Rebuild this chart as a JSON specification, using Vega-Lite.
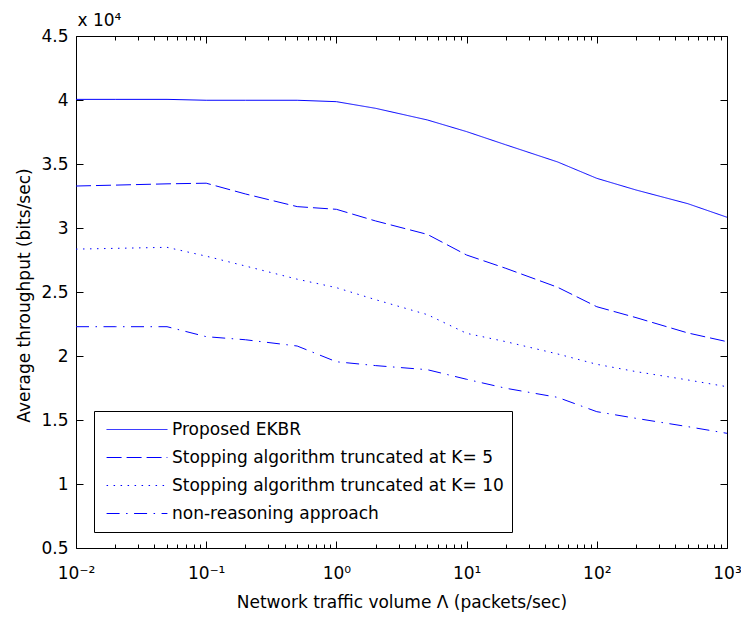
{
  "$schema": "https://vega.github.io/schema/vega-lite/v6.json",
  "width": 651,
  "height": 512,
  "autosize": {"type": "none"},
  "padding": {"left": 76, "top": 36, "right": 14, "bottom": 70},
  "background": "white",
  "config": {
    "view": {"stroke": "black", "strokeWidth": 1},
    "axis": {"domain": false, "grid": false, "labelFont": "DejaVu Sans", "labelFontSize": 17, "labelColor": "black", "titleFont": "DejaVu Sans", "titleFontSize": 17, "titleFontWeight": "normal", "titleColor": "black", "tickColor": "black", "tickWidth": 1}
  },
  "data": {"values": [
    {"x": 0.01, "y": 40050, "series": "Proposed EKBR"},
    {"x": 0.02, "y": 40050, "series": "Proposed EKBR"},
    {"x": 0.05, "y": 40050, "series": "Proposed EKBR"},
    {"x": 0.1, "y": 39980, "series": "Proposed EKBR"},
    {"x": 0.2, "y": 39980, "series": "Proposed EKBR"},
    {"x": 0.5, "y": 39980, "series": "Proposed EKBR"},
    {"x": 1, "y": 39870, "series": "Proposed EKBR"},
    {"x": 2, "y": 39350, "series": "Proposed EKBR"},
    {"x": 5, "y": 38440, "series": "Proposed EKBR"},
    {"x": 10, "y": 37530, "series": "Proposed EKBR"},
    {"x": 20, "y": 36500, "series": "Proposed EKBR"},
    {"x": 50, "y": 35160, "series": "Proposed EKBR"},
    {"x": 100, "y": 33880, "series": "Proposed EKBR"},
    {"x": 200, "y": 32970, "series": "Proposed EKBR"},
    {"x": 500, "y": 31900, "series": "Proposed EKBR"},
    {"x": 1000, "y": 30840, "series": "Proposed EKBR"},
    {"x": 0.01, "y": 33280, "series": "Stopping algorithm truncated at K= 5"},
    {"x": 0.02, "y": 33350, "series": "Stopping algorithm truncated at K= 5"},
    {"x": 0.05, "y": 33450, "series": "Stopping algorithm truncated at K= 5"},
    {"x": 0.1, "y": 33500, "series": "Stopping algorithm truncated at K= 5"},
    {"x": 0.2, "y": 32660, "series": "Stopping algorithm truncated at K= 5"},
    {"x": 0.5, "y": 31670, "series": "Stopping algorithm truncated at K= 5"},
    {"x": 1, "y": 31460, "series": "Stopping algorithm truncated at K= 5"},
    {"x": 2, "y": 30550, "series": "Stopping algorithm truncated at K= 5"},
    {"x": 5, "y": 29500, "series": "Stopping algorithm truncated at K= 5"},
    {"x": 10, "y": 27890, "series": "Stopping algorithm truncated at K= 5"},
    {"x": 20, "y": 26850, "series": "Stopping algorithm truncated at K= 5"},
    {"x": 50, "y": 25370, "series": "Stopping algorithm truncated at K= 5"},
    {"x": 100, "y": 23850, "series": "Stopping algorithm truncated at K= 5"},
    {"x": 200, "y": 23000, "series": "Stopping algorithm truncated at K= 5"},
    {"x": 500, "y": 21800, "series": "Stopping algorithm truncated at K= 5"},
    {"x": 1000, "y": 21120, "series": "Stopping algorithm truncated at K= 5"},
    {"x": 0.01, "y": 28350, "series": "Stopping algorithm truncated at K= 10"},
    {"x": 0.02, "y": 28410, "series": "Stopping algorithm truncated at K= 10"},
    {"x": 0.05, "y": 28490, "series": "Stopping algorithm truncated at K= 10"},
    {"x": 0.1, "y": 27800, "series": "Stopping algorithm truncated at K= 10"},
    {"x": 0.2, "y": 27030, "series": "Stopping algorithm truncated at K= 10"},
    {"x": 0.5, "y": 26000, "series": "Stopping algorithm truncated at K= 10"},
    {"x": 1, "y": 25340, "series": "Stopping algorithm truncated at K= 10"},
    {"x": 2, "y": 24400, "series": "Stopping algorithm truncated at K= 10"},
    {"x": 5, "y": 23230, "series": "Stopping algorithm truncated at K= 10"},
    {"x": 10, "y": 21770, "series": "Stopping algorithm truncated at K= 10"},
    {"x": 20, "y": 21120, "series": "Stopping algorithm truncated at K= 10"},
    {"x": 50, "y": 20160, "series": "Stopping algorithm truncated at K= 10"},
    {"x": 100, "y": 19350, "series": "Stopping algorithm truncated at K= 10"},
    {"x": 200, "y": 18780, "series": "Stopping algorithm truncated at K= 10"},
    {"x": 500, "y": 18130, "series": "Stopping algorithm truncated at K= 10"},
    {"x": 1000, "y": 17600, "series": "Stopping algorithm truncated at K= 10"},
    {"x": 0.01, "y": 22290, "series": "non-reasoning approach"},
    {"x": 0.02, "y": 22290, "series": "non-reasoning approach"},
    {"x": 0.05, "y": 22290, "series": "non-reasoning approach"},
    {"x": 0.1, "y": 21510, "series": "non-reasoning approach"},
    {"x": 0.2, "y": 21270, "series": "non-reasoning approach"},
    {"x": 0.5, "y": 20780, "series": "non-reasoning approach"},
    {"x": 1, "y": 19550, "series": "non-reasoning approach"},
    {"x": 2, "y": 19250, "series": "non-reasoning approach"},
    {"x": 5, "y": 18930, "series": "non-reasoning approach"},
    {"x": 10, "y": 18180, "series": "non-reasoning approach"},
    {"x": 20, "y": 17480, "series": "non-reasoning approach"},
    {"x": 50, "y": 16770, "series": "non-reasoning approach"},
    {"x": 100, "y": 15650, "series": "non-reasoning approach"},
    {"x": 200, "y": 15130, "series": "non-reasoning approach"},
    {"x": 500, "y": 14480, "series": "non-reasoning approach"},
    {"x": 1000, "y": 13960, "series": "non-reasoning approach"}
  ]},
  "resolve": {"axis": {"x": "independent", "y": "independent"}},
  "layer": [
    {
      "mark": {"type": "line", "stroke": "#0000ff", "strokeWidth": 1},
      "encoding": {
        "x": {"field": "x", "type": "quantitative",
          "scale": {"type": "log", "domain": [0.01, 1000], "nice": false},
          "axis": {"orient": "bottom", "values": [0.01, 0.1, 1, 10, 100, 1000], "ticks": false, "labelPadding": 17, "labelBaseline": "top",
            "labelExpr": "datum.value < 0.05 ? '10⁻²' : datum.value < 0.5 ? '10⁻¹' : datum.value < 5 ? '10⁰' : datum.value < 50 ? '10¹' : datum.value < 500 ? '10²' : '10³'",
            "labelFlush": false, "labelOverlap": false,
            "title": "Network traffic volume Λ (packets/sec)", "titleBaseline": "alphabetic", "titleY": 59, "titlePadding": 0}},
        "y": {"field": "y", "type": "quantitative",
          "scale": {"domain": [5000, 45000], "nice": false, "zero": false},
          "axis": {"orient": "left", "values": [5000, 10000, 15000, 20000, 25000, 30000, 35000, 40000, 45000], "ticks": false, "labelPadding": 8,
            "labelExpr": "'' + (datum.value / 10000)", "labelFlush": false, "labelOverlap": false,
            "title": "Average throughput (bits/sec)", "titleAngle": -90, "titleBaseline": "alphabetic", "titleAlign": "center", "titleX": -47, "titleY": 259}},
        "strokeDash": {"field": "series", "type": "nominal",
          "scale": {"domain": ["Proposed EKBR", "Stopping algorithm truncated at K= 5", "Stopping algorithm truncated at K= 10", "non-reasoning approach"],
            "range": [[1, 0], [15, 5], [1.5, 5.5], [13, 6.5, 1.5, 6.5]]},
          "legend": {"orient": "none", "legendX": 18, "legendY": 375, "title": null, "direction": "vertical",
            "symbolType": "stroke", "symbolSize": 3700, "symbolStrokeWidth": 1, "symbolStrokeColor": "#0000ff", "symbolOffset": 4,
            "labelFont": "DejaVu Sans", "labelFontSize": 17, "labelColor": "black", "labelOffset": 4, "labelLimit": 0,
            "clipHeight": 21, "rowPadding": 7,
            "strokeColor": "black", "fillColor": "white", "padding": 8}}
      }
    },
    {
      "mark": {"type": "point", "opacity": 0},
      "encoding": {
        "x": {"field": "x", "type": "quantitative", "scale": {"type": "log", "domain": [0.01, 1000], "nice": false},
          "axis": {"orient": "bottom", "values": [0.01, 0.1, 1, 10, 100, 1000], "labels": false, "tickSize": -7, "title": null}},
        "y": {"field": "y", "type": "quantitative", "scale": {"domain": [5000, 45000], "nice": false, "zero": false},
          "axis": {"orient": "left", "values": [5000, 10000, 15000, 20000, 25000, 30000, 35000, 40000, 45000], "labels": false, "tickSize": -7, "title": null}}
      }
    },
    {
      "mark": {"type": "point", "opacity": 0},
      "encoding": {
        "x": {"field": "x", "type": "quantitative", "scale": {"type": "log", "domain": [0.01, 1000], "nice": false},
          "axis": {"orient": "bottom", "values": [0.02, 0.03, 0.04, 0.05, 0.06, 0.07, 0.08, 0.09, 0.2, 0.3, 0.4, 0.5, 0.6, 0.7, 0.8, 0.9, 2, 3, 4, 5, 6, 7, 8, 9, 20, 30, 40, 50, 60, 70, 80, 90, 200, 300, 400, 500, 600, 700, 800, 900], "labels": false, "tickSize": -4, "title": null}},
        "y": {"field": "y", "type": "quantitative", "scale": {"domain": [5000, 45000], "nice": false, "zero": false},
          "axis": {"orient": "right", "values": [5000, 10000, 15000, 20000, 25000, 30000, 35000, 40000, 45000], "labels": false, "tickSize": -7, "title": null}}
      }
    },
    {
      "mark": {"type": "point", "opacity": 0},
      "encoding": {
        "x": {"field": "x", "type": "quantitative", "scale": {"type": "log", "domain": [0.01, 1000], "nice": false},
          "axis": {"orient": "top", "values": [0.01, 0.1, 1, 10, 100, 1000], "labels": false, "tickSize": -7,
            "title": "x 10⁴", "titleX": 1, "titleY": -11, "titleAlign": "left", "titleBaseline": "alphabetic", "titleAngle": 0, "titlePadding": 0}},
        "y": {"field": "y", "type": "quantitative", "scale": {"domain": [5000, 45000], "nice": false, "zero": false}, "axis": null}
      }
    },
    {
      "mark": {"type": "point", "opacity": 0},
      "encoding": {
        "x": {"field": "x", "type": "quantitative", "scale": {"type": "log", "domain": [0.01, 1000], "nice": false},
          "axis": {"orient": "top", "values": [0.02, 0.03, 0.04, 0.05, 0.06, 0.07, 0.08, 0.09, 0.2, 0.3, 0.4, 0.5, 0.6, 0.7, 0.8, 0.9, 2, 3, 4, 5, 6, 7, 8, 9, 20, 30, 40, 50, 60, 70, 80, 90, 200, 300, 400, 500, 600, 700, 800, 900], "labels": false, "tickSize": -4, "title": null}},
        "y": {"field": "y", "type": "quantitative", "scale": {"domain": [5000, 45000], "nice": false, "zero": false}, "axis": null}
      }
    }
  ]
}
